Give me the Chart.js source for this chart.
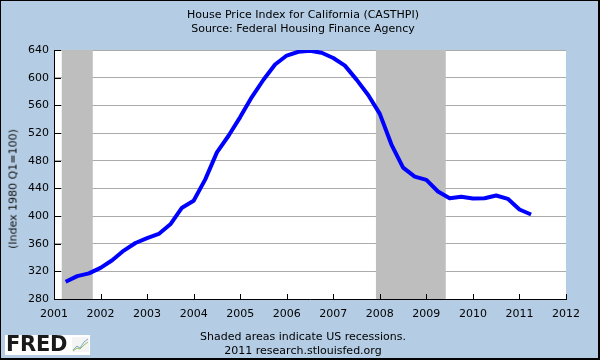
<!DOCTYPE html>
<html>
<head>
<meta charset="utf-8">
<script src="https://cdn.jsdelivr.net/npm/chart.js@4/dist/chart.umd.min.js"></script>
<style>
  html, body { margin: 0; padding: 0; background: #fff; }
  #box { position: relative; width: 600px; height: 360px; background: #B4CDE4; overflow: hidden;
         font-family: "DejaVu Sans", Verdana, sans-serif; color: #000; }
  #chart { position: absolute; left: 0; top: 0; }
  .txt { position: absolute; left: 3px; width: 600px; text-align: center; font-size: 11px; line-height: 14px; white-space: nowrap; }
  #ytitle { position: absolute; left: 13px; top: 189px; font-size: 11px; white-space: nowrap; color: #111;
            transform: translate(-50%, -50%) rotate(-90deg); }
  #logo { position: absolute; left: 5px; top: 335px; width: 85px; height: 20px; background: #fff; }
  #logo span { position: absolute; left: 1px; top: -3px; font-family: "DejaVu Sans", Verdana, sans-serif;
               font-weight: bold; font-size: 21px; letter-spacing: -0.3px; color: #1a1a1a; }
  #logo svg { position: absolute; left: 67px; top: 2px; }
  #frame { position: absolute; left: 0; top: 0; width: 600px; height: 360px; box-sizing: border-box;
           border: 1px solid #000; border-right-width: 2px; border-bottom-width: 2px; pointer-events: none; }
</style>
</head>
<body>
<div id="box">
  <canvas id="chart" width="600" height="360"></canvas>
  <div class="txt" style="top:8px">House Price Index for California (CASTHPI)<br>Source: Federal Housing Finance Agency</div>
  <div id="ytitle">(Index 1980 Q1=100)</div>
  <div class="txt" style="top:330px">Shaded areas indicate US recessions.<br>2011 research.stlouisfed.org</div>
  <div id="logo"><span>FRED</span>
    <svg width="17" height="15" viewBox="0 0 17 15">
      <rect x="0" y="0" width="17" height="15" fill="#f4f4f4"/>
      <polyline points="1,13 5,9 8,11 12,5 16,2" fill="none" stroke="#7fa6c9" stroke-width="1"/>
      <polyline points="1,14 5,11 8,12 12,8 16,5" fill="none" stroke="#8dbf5a" stroke-width="1"/>
    </svg>
  </div>
  <div id="frame"></div>
</div>
<script>
// ---- data ----
const quarters = [
  '2001Q2','2001Q3','2001Q4',
  '2002Q1','2002Q2','2002Q3','2002Q4',
  '2003Q1','2003Q2','2003Q3','2003Q4',
  '2004Q1','2004Q2','2004Q3','2004Q4',
  '2005Q1','2005Q2','2005Q3','2005Q4',
  '2006Q1','2006Q2','2006Q3','2006Q4',
  '2007Q1','2007Q2','2007Q3','2007Q4',
  '2008Q1','2008Q2','2008Q3','2008Q4',
  '2009Q1','2009Q2','2009Q3','2009Q4',
  '2010Q1','2010Q2','2010Q3','2010Q4',
  '2011Q1','2011Q2'
];
const hpi = [
  305, 313, 317,
  325, 336, 350, 361,
  368, 374, 388, 412,
  422, 453, 492, 516,
  543, 572, 597, 619,
  632, 637.5, 639, 636,
  628.4, 617.4, 597.2, 575,
  547.6, 503.3, 470, 457,
  452.2, 435.4, 425.7, 427.7,
  425.3, 425.7, 429.6, 424.8,
  409.4, 402.2
];
const recessionStart = ['2001-03', '2007-12'];
const recessionEnd   = ['2001-11', '2009-06'];
const xTickLabels = [2001, 2002, 2003, 2004, 2005, 2006, 2007, 2008, 2009, 2010, 2011, 2012];
const yTickLabels = [280, 320, 360, 400, 440, 480, 520, 560, 600, 640];

// ---- helpers ----
const quarterToYear = s => parseInt(s.slice(0, 4), 10) + (parseInt(s.slice(5), 10) - 1) / 4;
const monthToYear = s => parseInt(s.slice(0, 4), 10) + (parseInt(s.slice(5), 10) - 1) / 12;
const points = quarters.map((q, i) => ({ x: quarterToYear(q), y: hpi[i] }));

const fredPlugin = {
  id: 'fredDecor',
  beforeDraw(chart) {
    const { ctx, chartArea: a } = chart;
    ctx.save();
    ctx.fillStyle = '#ffffff';
    ctx.fillRect(a.left, a.top, a.right - a.left, a.bottom - a.top);
    ctx.restore();
  },
  beforeDatasetsDraw(chart) {
    const { ctx, chartArea: a, scales: { x } } = chart;
    ctx.save();
    ctx.fillStyle = '#BEBEBE';
    recessionStart.forEach((s, i) => {
      const x0 = x.getPixelForValue(monthToYear(s));
      const x1 = x.getPixelForValue(monthToYear(recessionEnd[i]));
      ctx.fillRect(x0, a.top, x1 - x0, a.bottom - a.top);
    });
    ctx.restore();
  },
  afterDatasetsDraw(chart) {
    const { ctx, chartArea: a, scales: { x, y } } = chart;
    ctx.save();
    ctx.strokeStyle = '#000';
    ctx.lineWidth = 1;
    ctx.beginPath();
    yTickLabels.forEach(v => {
      const py = Math.round(y.getPixelForValue(v)) + 0.5;
      ctx.moveTo(a.left, py); ctx.lineTo(a.left + 7, py);
    });
    xTickLabels.forEach(v => {
      const px = Math.round(x.getPixelForValue(v)) + 0.5;
      ctx.moveTo(px, a.bottom); ctx.lineTo(px, a.bottom - 5);
    });
    ctx.stroke();
    ctx.restore();
  }
};

const tickFont = { family: '"DejaVu Sans", Verdana, sans-serif', size: 11 };

new Chart(document.getElementById('chart'), {
  type: 'line',
  data: {
    datasets: [{
      data: points,
      borderColor: '#0000FF',
      borderWidth: 4,
      pointRadius: 0,
      tension: 0,
      fill: false,
      borderJoinStyle: 'round',
      borderCapStyle: 'butt'
    }]
  },
  options: {
    responsive: false,
    animation: false,
    devicePixelRatio: 1,
    layout: { padding: { top: 50, right: 34, bottom: 0, left: 0 } },
    plugins: { legend: { display: false }, tooltip: { enabled: false }, title: { display: false } },
    scales: {
      x: {
        type: 'linear',
        min: 2001, max: 2012,
        afterBuildTicks: s => { s.ticks = xTickLabels.map(v => ({ value: v })); },
        afterFit: s => { s.height = 61; },
        ticks: { callback: v => String(v), padding: 9, color: '#000', font: tickFont, maxRotation: 0, autoSkip: false },
        grid: { display: false, drawTicks: false },
        border: { display: true, color: '#000', width: 1 }
      },
      y: {
        min: 280, max: 640,
        afterBuildTicks: s => { s.ticks = yTickLabels.map(v => ({ value: v })); },
        afterFit: s => { s.width = 54; },
        ticks: { callback: v => String(v), padding: 5, color: '#000', font: tickFont },
        grid: { color: '#ABABAB', lineWidth: 1, drawTicks: false },
        border: { display: true, color: '#000', width: 1 }
      }
    }
  },
  plugins: [fredPlugin]
});
</script>
</body>
</html>
